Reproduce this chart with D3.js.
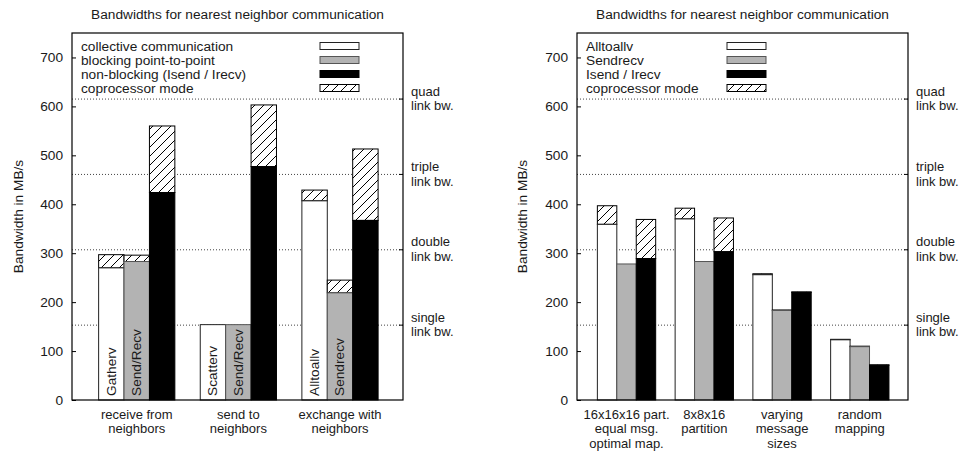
<!DOCTYPE html>
<html>
<head>
<meta charset="utf-8">
<script src="https://cdn.jsdelivr.net/npm/d3@7/dist/d3.min.js"></script>
<style>
  html, body { margin: 0; padding: 0; background: #fff; }
  svg text { font-family: "Liberation Sans", Arial, Helvetica, sans-serif; fill: #1a1a1a; }
</style>
</head>
<body>
<svg id="chart" width="963" height="453"></svg>
<script>
// ---- shared values ----
const titleText = "Bandwidths for nearest neighbor communication";
const yLabelText = "Bandwidth in MB/s";
const yTicks = [0, 100, 200, 300, 400, 500, 600, 700];
const yMax = 750;
const linkLevels = [154, 308, 462, 616];
const linkNames = ["single", "double", "triple", "quad"];

// ---- left panel: operation type ----
const leftCategories = [["receive from", "neighbors"], ["send to", "neighbors"], ["exchange with", "neighbors"]];
const leftSeriesNames = ["collective communication", "blocking point-to-point", "non-blocking (Isend / Irecv)"];
const leftCollective = [270, 154, 407];
const leftCollectiveCopro = [297, 154, 429];
const leftBlocking = [283, 154, 219];
const leftBlockingCopro = [296, 154, 245];
const leftNonBlocking = [424, 477, 367];
const leftNonBlockingCopro = [560, 603, 513];
const leftBarLabels = [["Gatherv", "Send/Recv"], ["Scatterv", "Send/Recv"], ["Alltoallv", "Sendrecv"]];

// ---- right panel: partition / mapping ----
const rightCategories = [["16x16x16 part.", "equal msg.", "optimal map."], ["8x8x16", "partition"], ["varying", "message", "sizes"], ["random", "mapping"]];
const rightSeriesNames = ["Alltoallv", "Sendrecv", "Isend / Irecv"];
const rightAlltoallv = [359, 370, 256, 123];
const rightAlltoallvCopro = [397, 392, 258, 124];
const rightSendrecv = [278, 283, 183, 109];
const rightSendrecvCopro = [278, 283, 184, 110];
const rightIsend = [289, 303, 220, 71];
const rightIsendCopro = [369, 372, 221, 72];

const coproName = "coprocessor mode";
const seriesFills = ["#ffffff", "#b3b3b3", "#000000"];
const seriesStrokes = ["#222222", "#555555", "#000000"];

const svg = d3.select("#chart");

// diagonal hatch used for the coprocessor-mode increment
const defs = svg.append("defs");
const pat = defs.append("pattern")
  .attr("id", "hatch")
  .attr("patternUnits", "userSpaceOnUse")
  .attr("width", 9).attr("height", 9);
pat.append("rect").attr("width", 9).attr("height", 9).attr("fill", "#fff");
pat.append("path")
  .attr("d", "M0,9 L9,0 M-2,2 L2,-2 M7,11 L11,7")
  .attr("stroke", "#000").attr("stroke-width", 1);

function drawPanel(opt) {
  const g = svg.append("g");
  const left = opt.left, right = opt.right, top = 33, bottom = 400;
  const n = opt.categories.length;

  const x = d3.scaleLinear().domain([-0.637, n - 1 + 0.62]).range([left, right]);
  const y = d3.scaleLinear().domain([0, yMax]).range([bottom, top]);
  const unit = x(1) - x(0);

  // title
  g.append("text")
    .attr("x", (left + right) / 2).attr("y", 19)
    .attr("text-anchor", "middle")
    .style("font-size", "13.7px")
    .text(titleText);

  // y axis label
  g.append("text")
    .attr("transform", `translate(${opt.yLabelX},${(top + bottom) / 2}) rotate(-90)`)
    .attr("text-anchor", "middle")
    .attr("dominant-baseline", "central")
    .style("font-size", "13.7px")
    .text(yLabelText);

  // link bandwidth reference lines (behind bars)
  g.selectAll(".link").data(linkLevels).join("line")
    .attr("x1", left).attr("x2", right)
    .attr("y1", d => y(d) + 0.5).attr("y2", d => y(d) + 0.5)
    .attr("stroke", "#444").attr("stroke-width", 1)
    .attr("stroke-dasharray", "1,2");

  // bars
  opt.series.forEach((s, si) => {
    s.base.forEach((v, ci) => {
      const x0 = x(ci + (si - 1.5) * 0.25);
      const w = unit * 0.25;
      const tot = s.copro[ci];
      if (tot > v) {
        g.append("rect")
          .attr("x", x0).attr("y", y(tot))
          .attr("width", w).attr("height", y(v) - y(tot))
          .attr("fill", "url(#hatch)")
          .attr("stroke", "#000").attr("stroke-width", 1);
      }
      g.append("rect")
        .attr("x", x0).attr("y", y(v))
        .attr("width", w).attr("height", y(0) - y(v))
        .attr("fill", seriesFills[si])
        .attr("stroke", seriesStrokes[si]).attr("stroke-width", 1);
      if (opt.barLabels && opt.barLabels[ci][si]) {
        g.append("text")
          .attr("transform", `translate(${x0 + w / 2},${y(0) - 4}) rotate(-90)`)
          .attr("text-anchor", "start")
          .attr("dominant-baseline", "central")
          .style("font-size", "13.7px")
          .text(opt.barLabels[ci][si]);
      }
    });
  });

  // frame
  g.append("rect")
    .attr("x", left).attr("y", top)
    .attr("width", right - left).attr("height", bottom - top)
    .attr("fill", "none").attr("stroke", "#000").attr("stroke-width", 1.2);

  // y ticks (inward) and labels
  const yAxis = d3.axisLeft(y).tickValues(yTicks).tickSize(-4).tickPadding(9).tickFormat(d3.format("d"));
  const ya = g.append("g").attr("transform", `translate(${left},0)`).call(yAxis);
  ya.select(".domain").remove();
  ya.selectAll("line").attr("stroke", "#000");
  ya.selectAll("text").style("font-size", "13.7px").attr("fill", "#1a1a1a")
    .style("font-family", "'Liberation Sans', Arial, sans-serif");

  // right-side link ticks and labels
  const y2Axis = d3.axisRight(y).tickValues(linkLevels).tickSize(-4).tickFormat("");
  const y2 = g.append("g").attr("transform", `translate(${right},0)`).call(y2Axis);
  y2.select(".domain").remove();
  y2.selectAll("line").attr("stroke", "#000");
  const lineGap = 14.6;
  linkLevels.forEach((lv, i) => {
    [linkNames[i], "link bw."].forEach((txt, li) => {
      g.append("text")
        .attr("x", right + 8)
        .attr("y", y(lv) + (li - 0.5) * lineGap)
        .attr("dominant-baseline", "central")
        .style("font-size", "13px")
        .text(txt);
    });
  });

  // category labels
  opt.categories.forEach((lines, ci) => {
    lines.forEach((ln, li) => {
      g.append("text")
        .attr("x", x(ci)).attr("y", 414 + li * lineGap)
        .attr("text-anchor", "middle")
        .attr("dominant-baseline", "central")
        .style("font-size", "13px")
        .text(ln);
    });
  });

  // legend
  const names = opt.series.map(s => s.name).concat([coproName]);
  const fills = seriesFills.concat(["url(#hatch)"]);
  const strokes = seriesStrokes.concat(["#000"]);
  names.forEach((nm, i) => {
    const cy = 46 + i * 14;
    g.append("text")
      .attr("x", opt.legendTextX).attr("y", cy)
      .attr("dominant-baseline", "central")
      .style("font-size", "13.7px")
      .text(nm);
    g.append("rect")
      .attr("x", opt.legendSampleX).attr("y", cy - 3.5)
      .attr("width", 39).attr("height", 7)
      .attr("fill", fills[i]).attr("stroke", strokes[i]).attr("stroke-width", 1);
  });
}

drawPanel({
  left: 72, right: 403, yLabelX: 18,
  categories: leftCategories,
  series: [
    { name: leftSeriesNames[0], base: leftCollective, copro: leftCollectiveCopro },
    { name: leftSeriesNames[1], base: leftBlocking, copro: leftBlockingCopro },
    { name: leftSeriesNames[2], base: leftNonBlocking, copro: leftNonBlockingCopro }
  ],
  barLabels: leftBarLabels,
  legendTextX: 81, legendSampleX: 320
});

drawPanel({
  left: 577, right: 908, yLabelX: 522,
  categories: rightCategories,
  series: [
    { name: rightSeriesNames[0], base: rightAlltoallv, copro: rightAlltoallvCopro },
    { name: rightSeriesNames[1], base: rightSendrecv, copro: rightSendrecvCopro },
    { name: rightSeriesNames[2], base: rightIsend, copro: rightIsendCopro }
  ],
  barLabels: null,
  legendTextX: 586, legendSampleX: 727
});
</script>
</body>
</html>
